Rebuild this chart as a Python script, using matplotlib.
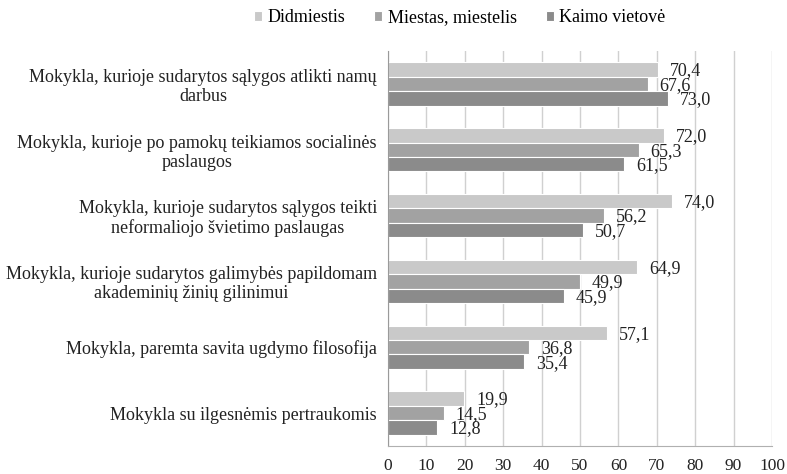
import matplotlib.pyplot as plt
import numpy as np

plt.rcParams['font.family'] = ['Liberation Serif', 'DejaVu Serif']

categories = [
    'Mokykla, kurioje sudarytos sąlygos atlikti namų\ndarbus',
    'Mokykla, kurioje po pamokų teikiamos socialinės\npaslaugos',
    'Mokykla, kurioje sudarytos sąlygos teikti\nneformaliojo švietimo paslaugas',
    'Mokykla, kurioje sudarytos galimybės papildomam\nakademinių žinių gilinimui',
    'Mokykla, paremta savita ugdymo filosofija',
    'Mokykla su ilgesnėmis pertraukomis',
]
series_names = ['Didmiestis', 'Miestas, miestelis', 'Kaimo vietovė']
didmiestis = [70.4, 72.0, 74.0, 64.9, 57.1, 19.9]
miestas = [67.6, 65.3, 56.2, 49.9, 36.8, 14.5]
kaimas = [73.0, 61.5, 50.7, 45.9, 35.4, 12.8]
colors = ['#c9c9c9', '#a2a2a2', '#8b8b8b']

fig = plt.figure(figsize=(7.87, 4.74), dpi=100)
ax = fig.add_axes([388 / 787, 1 - 446 / 474, 384 / 787, 395 / 474])

y = np.arange(len(categories))
h = 0.22
for i, (vals, name, c) in enumerate(zip([didmiestis, miestas, kaimas], series_names, colors)):
    pos = y + (i - 1) * h
    ax.barh(pos, vals, height=h, color=c, edgecolor='white', linewidth=0.8, label=name, zorder=2)
    for p, v in zip(pos, vals):
        ax.annotate(f'{v:.1f}'.replace('.', ','), (v, p), xytext=(8.5, -1),
                    textcoords='offset points', va='center', ha='left', fontsize=13, color='#222222')

ax.set_xlim(0, 100)
ax.set_xticks(range(0, 101, 10))
ax.set_ylim(len(categories) - 0.5, -0.5)
ax.set_yticks(y)
ax.set_yticklabels(categories, ha='right', multialignment='center', fontsize=13,
                   color='#222222', linespacing=1.15)
ax.tick_params(axis='y', length=0, pad=8)
ax.tick_params(axis='x', length=0, pad=9, labelsize=12.5, labelcolor='#222222')
ax.grid(axis='x', color='#d0d0d0', linewidth=1, zorder=0)
for s in ['top', 'right']:
    ax.spines[s].set_visible(False)
ax.spines['left'].set_color('#9a9a9a')
ax.spines['bottom'].set_color('#b0b0b0')

fig.legend(loc='upper center', bbox_to_anchor=(0.584, 1.015), ncol=3, frameon=False,
           fontsize=13, handlelength=0.45, handleheight=0.45, columnspacing=1.6, handletextpad=0.3)

fig.savefig('out.png', dpi=100)
